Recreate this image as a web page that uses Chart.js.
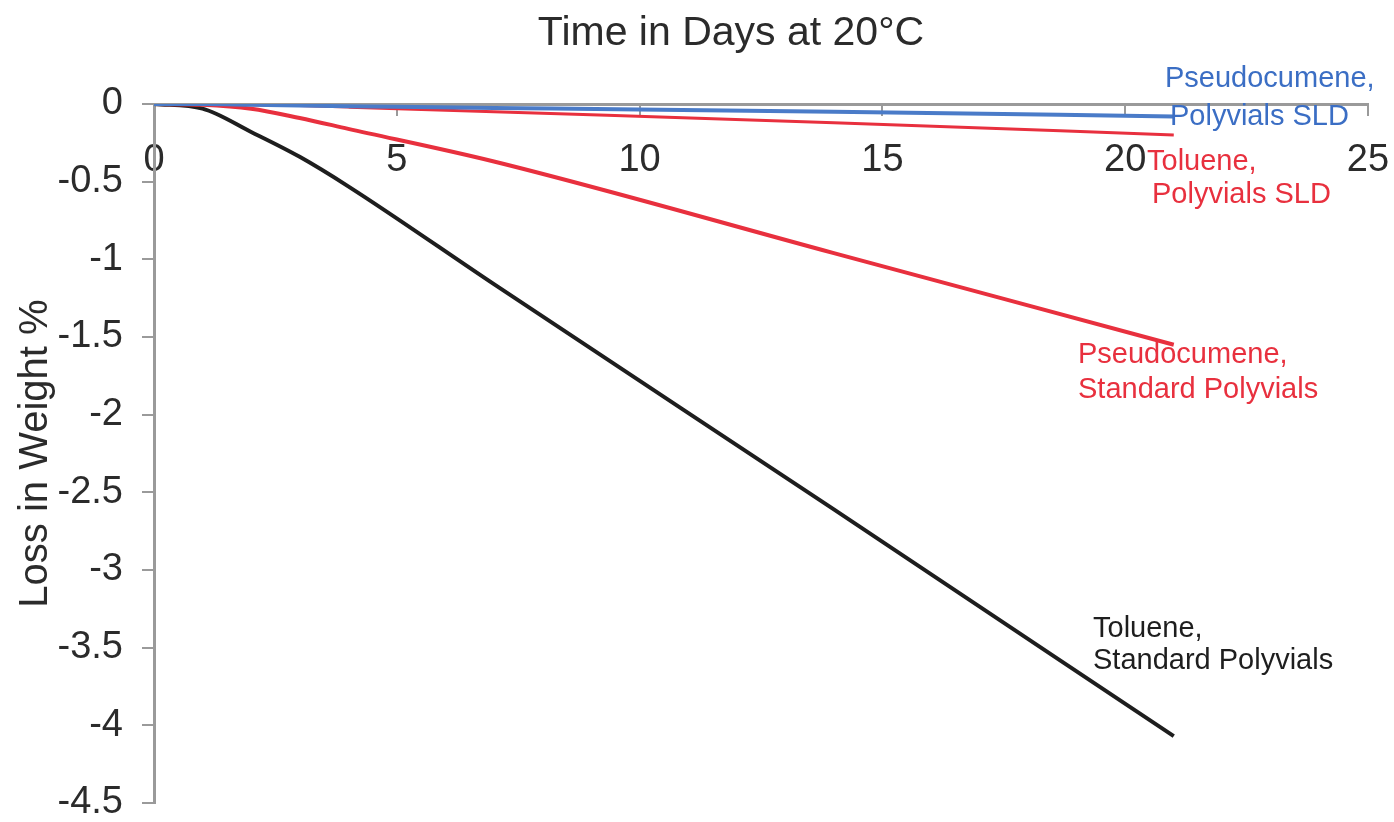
<!DOCTYPE html>
<html>
<head>
<meta charset="utf-8">
<title>Loss in Weight vs Time</title>
<script src="https://cdn.jsdelivr.net/npm/chart.js@4.4.1/dist/chart.umd.min.js"></script>
<style>
  html, body { margin: 0; padding: 0; background: #ffffff; }
  #wrap { width: 1394px; height: 822px; position: relative; }
</style>
</head>
<body>
<div id="wrap"><canvas id="chart" width="1394" height="822"></canvas></div>
<script>
// Sampling days
const days = [0, 1, 2, 3, 4, 7, 14, 21];

// Weight change (%) for each vial / solvent combination
const pseudocumeneSLD      = [0, 0, -0.005, -0.01, -0.015, -0.025, -0.05, -0.08];
const tolueneSLD           = [0, 0, -0.005, -0.01, -0.02, -0.05, -0.12, -0.2];
const pseudocumeneStandard = [0, -0.005, -0.03, -0.09, -0.16, -0.37, -0.96, -1.55];
const tolueneStandard      = [0, -0.03, -0.18, -0.34, -0.53, -1.16, -2.61, -4.07];

// Axis ticks
const xTicks = [0, 5, 10, 15, 20, 25];
const yTicks = [0, -0.5, -1, -1.5, -2, -2.5, -3, -3.5, -4, -4.5];

const chartTitle = 'Time in Days at 20°C';
const yTitle = 'Loss in Weight %';

// Series labels written beside the line ends
const seriesLabels = [
  { lines: ['Pseudocumene,', 'Polyvials SLD'], color: '#3b6ec4', x: [1165, 1170], base: [87, 125] },
  { lines: ['Toluene,', 'Polyvials SLD'], color: '#e8303e', x: [1147, 1152], base: [170, 203] },
  { lines: ['Pseudocumene,', 'Standard Polyvials'], color: '#e8303e', x: [1078, 1078], base: [363, 398] },
  { lines: ['Toluene,', 'Standard Polyvials'], color: '#1e1e1e', x: [1093, 1093], base: [637, 669] }
];

const FONT = '"Liberation Sans", Arial, Helvetica, sans-serif';
const AXIS_GREY = '#9a9a9a';
const TEXT = '#2b2b2b';

function pairs(values) {
  return days.map((d, i) => ({ x: d, y: values[i] }));
}

const textPlugin = {
  id: 'textLabels',
  afterDraw(chart) {
    const ctx = chart.ctx;
    ctx.save();
    ctx.textBaseline = 'alphabetic';
    // Heading over the chart
    ctx.font = '41px ' + FONT;
    ctx.fillStyle = TEXT;
    ctx.textAlign = 'center';
    ctx.fillText(chartTitle, 731, 45);
    // Series labels
    ctx.font = '29px ' + FONT;
    ctx.textAlign = 'left';
    seriesLabels.forEach(lab => {
      ctx.fillStyle = lab.color;
      lab.lines.forEach((t, i) => ctx.fillText(t, lab.x[i], lab.base[i]));
    });
    ctx.restore();
  }
};

new Chart(document.getElementById('chart'), {
  type: 'line',
  data: {
    datasets: [
      { label: 'Pseudocumene, Polyvials SLD', data: pairs(pseudocumeneSLD), borderColor: '#4a7bc8', borderWidth: 4 },
      { label: 'Toluene, Polyvials SLD', data: pairs(tolueneSLD), borderColor: '#e8303e', borderWidth: 3 },
      { label: 'Pseudocumene, Standard Polyvials', data: pairs(pseudocumeneStandard), borderColor: '#e8303e', borderWidth: 4 },
      { label: 'Toluene, Standard Polyvials', data: pairs(tolueneStandard), borderColor: '#1e1e1e', borderWidth: 4 }
    ]
  },
  options: {
    responsive: false,
    animation: false,
    events: [],
    layout: { padding: { left: 0, top: 104, right: 26, bottom: 19 } },
    elements: {
      point: { radius: 0 },
      line: { cubicInterpolationMode: 'monotone', fill: false }
    },
    plugins: {
      legend: { display: false },
      title: { display: false },
      tooltip: { enabled: false }
    },
    scales: {
      x: {
        type: 'linear',
        position: { y: 0 },
        min: 0,
        max: 25,
        afterBuildTicks(scale) { scale.ticks = xTicks.map(v => ({ value: v })); },
        afterFit(scale) { scale.paddingLeft = 0; scale.paddingRight = 0; },
        grid: { display: true, drawOnChartArea: false, drawTicks: true, tickLength: 10, color: AXIS_GREY, lineWidth: 2 },
        border: { display: true, color: AXIS_GREY, width: 3 },
        ticks: {
          padding: 28,
          maxRotation: 0,
          color: TEXT,
          font: { family: FONT, size: 38, lineHeight: 1 },
          callback: v => String(v)
        }
      },
      y: {
        type: 'linear',
        position: 'left',
        min: -4.5,
        max: 0,
        afterBuildTicks(scale) { scale.ticks = yTicks.map(v => ({ value: v })); },
        afterFit(scale) {
          scale.width = 154;
          scale.paddingTop = 0;
          scale.paddingBottom = 0;
        },
        grid: { display: true, drawOnChartArea: false, drawTicks: true, tickLength: 12, color: AXIS_GREY, lineWidth: 2 },
        border: { display: true, color: AXIS_GREY, width: 3 },
        ticks: {
          padding: 19,
          color: TEXT,
          font: { family: FONT, size: 38, lineHeight: 1 },
          callback: v => String(v)
        },
        title: {
          display: true,
          text: yTitle,
          color: TEXT,
          font: { family: FONT, size: 40, lineHeight: 1.2 },
          padding: { top: 12, bottom: 0 }
        }
      }
    }
  },
  plugins: [textPlugin]
});
</script>
</body>
</html>
